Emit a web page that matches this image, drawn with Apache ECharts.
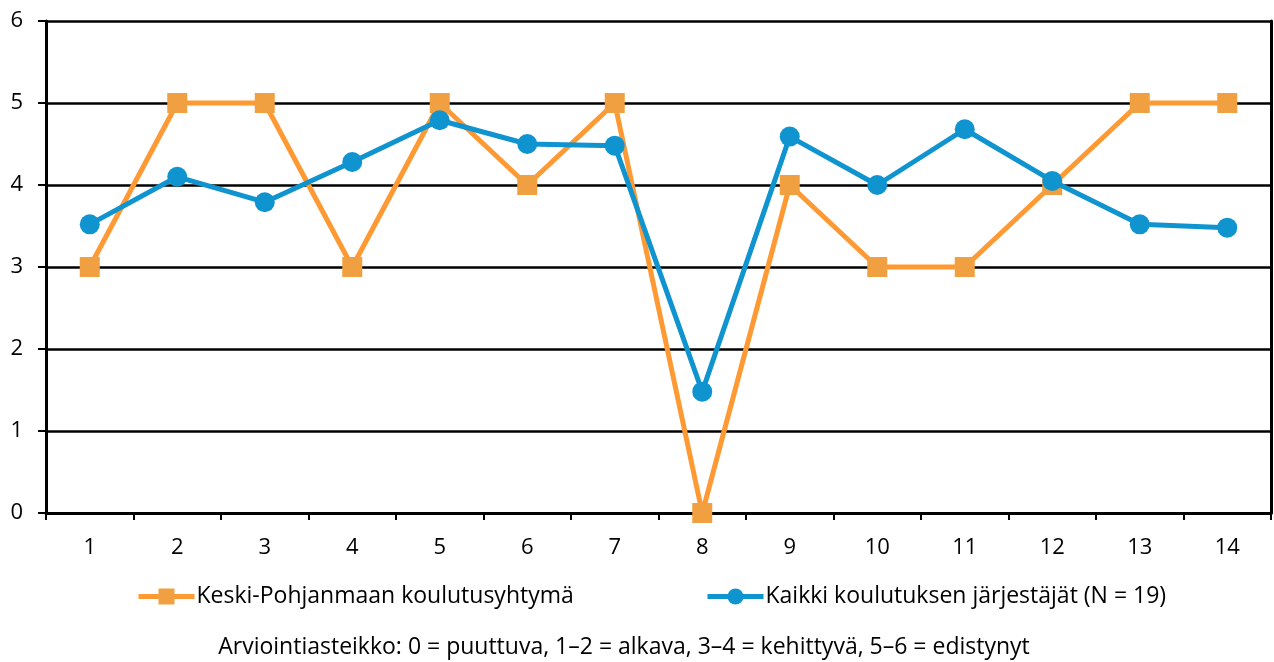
<!DOCTYPE html>
<html>
<head>
<meta charset="utf-8">
<script src="https://cdn.jsdelivr.net/npm/echarts@6/dist/echarts.min.js"></script>
<style>
  html, body { margin: 0; padding: 0; background: #fff; }
  #chart { width: 1274px; height: 662px; }
</style>
</head>
<body>
<div id="chart"></div>
<script>
var categories = ['1', '2', '3', '4', '5', '6', '7', '8', '9', '10', '11', '12', '13', '14']
var keskiPohjanmaa = [3, 5, 5, 3, 5, 4, 5, 0, 4, 3, 3, 4, 5, 5]
var kaikki = [3.52, 4.10, 3.79, 4.28, 4.79, 4.50, 4.48, 1.48, 4.59, 4.00, 4.68, 4.05, 3.52, 3.48]
var seriesNames = ['Keski-Pohjanmaan koulutusyhtymä', 'Kaikki koulutuksen järjestäjät (N = 19)']
var footNote = 'Arviointiasteikko: 0 = puuttuva, 1–2 = alkava, 3–4 = kehittyvä, 5–6 = edistynyt'

var font = 'Open Sans'
var chart = echarts.init(document.getElementById('chart'))

var legendBase = {
  orient: 'horizontal',
  top: 585,
  padding: 0,
  itemWidth: 56,
  itemHeight: 20,
  itemGap: 0,
  lineStyle: { width: 5 },
  textStyle: { fontFamily: font, fontSize: 23, color: '#000', padding: [0, 0, 0, -3] }
}

chart.setOption({
  animation: false,
  grid: { left: 46, right: 3, top: 21, bottom: 149, containLabel: false },
  legend: [
    Object.assign({}, legendBase, { left: 136, data: [seriesNames[0]] }),
    Object.assign({}, legendBase, { left: 705, data: [seriesNames[1]] })
  ],
  graphic: [{
    type: 'text',
    x: 624,
    y: 636,
    style: { text: footNote, fontFamily: font, fontSize: 23, fill: '#000', align: 'center' }
  }],
  xAxis: {
    type: 'category',
    data: categories,
    boundaryGap: true,
    axisLine: { lineStyle: { color: '#000', width: 3 } },
    axisTick: { show: true, length: 7, lineStyle: { color: '#000', width: 2 } },
    axisLabel: { color: '#000', fontFamily: font, fontSize: 22, margin: 24 },
    splitLine: { show: false }
  },
  yAxis: [{
    type: 'value',
    min: 0,
    max: 6,
    interval: 1,
    axisLine: { show: true, lineStyle: { color: '#000', width: 3 } },
    axisTick: { show: true, length: 8, lineStyle: { color: '#000', width: 2 } },
    axisLabel: { color: '#000', fontFamily: font, fontSize: 22, margin: 23 },
    splitLine: { show: true, lineStyle: { color: '#000', width: 2.5 } }
  }, {
    type: 'value',
    position: 'right',
    min: 0,
    max: 6,
    interval: 1,
    axisLine: { show: true, lineStyle: { color: '#000', width: 3 } },
    axisTick: { show: false },
    axisLabel: { show: false },
    splitLine: { show: false }
  }],
  series: [{
    name: seriesNames[0],
    type: 'line',
    data: keskiPohjanmaa,
    symbol: 'rect',
    symbolSize: 20,
    clip: false,
    itemStyle: { color: '#F0A040' },
    lineStyle: { color: '#FF9933', width: 5 },
    z: 3
  }, {
    name: seriesNames[1],
    type: 'line',
    data: kaikki,
    symbol: 'circle',
    symbolSize: 20,
    clip: false,
    itemStyle: { color: '#1094D0' },
    lineStyle: { color: '#1094D0', width: 5 },
    z: 4
  }]
})
</script>
</body>
</html>
